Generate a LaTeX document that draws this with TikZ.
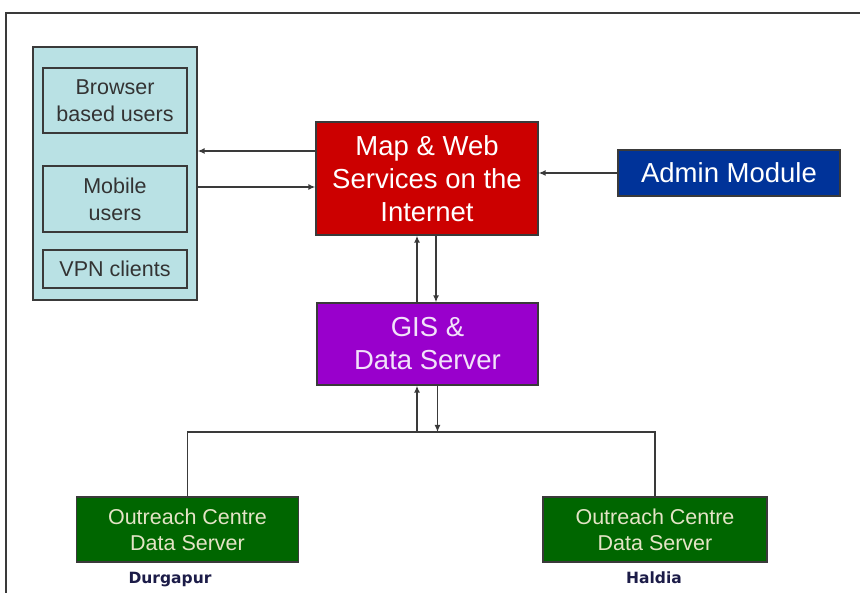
\documentclass[tikz,border=0pt]{standalone}
\usepackage{fontspec}
\setmainfont{Liberation Sans}
\newfontfamily\labelfont{DejaVu Sans}
\usetikzlibrary{calc,arrows.meta}
\definecolor{contfill}{HTML}{B9E1E4}
\definecolor{edgegray}{HTML}{3A3A3A}
\definecolor{redfill}{HTML}{CC0000}
\definecolor{bluefill}{HTML}{003399}
\definecolor{purplefill}{HTML}{9900CC}
\definecolor{greenfill}{HTML}{006600}
\definecolor{greentext}{HTML}{E4E4C6}
\definecolor{purpletext}{HTML}{F2E2FA}
\definecolor{navytext}{HTML}{1C1C48}
\definecolor{smalltext}{HTML}{333333}
\tikzset{
  boxbase/.style={draw=edgegray, line width=1.3pt, inner sep=0pt, align=center},
  userbox/.style={boxbase, fill=contfill, text=smalltext, minimum width=144pt, font=\fontsize{21.5}{27}\selectfont},
  bigbox/.style={boxbase, text=white, font=\fontsize{27.5}{33}\selectfont},
  greenbox/.style={boxbase, fill=greenfill, text=greentext, minimum width=222pt, minimum height=65pt, font=\fontsize{21.5}{26}\selectfont},
  placelabel/.style={font=\labelfont\bfseries\fontsize{15.5}{18}\selectfont, text=navytext, inner sep=0pt},
  conn/.style={draw=edgegray, line width=1.5pt},
  arr/.style={conn, -{Latex[length=7pt,width=6pt]}},
}
\begin{document}
\begin{tikzpicture}[x=1pt,y=-1pt]
\useasboundingbox (0,0) rectangle (860,593);
\fill[white] (0,0) rectangle (860,593);
% frame
\draw[edgegray, line width=1.6pt] (6,593) coordinate (fbl) -- (6,13) coordinate (ftl) -- (860,13) coordinate (ftr);
% users container
\node[boxbase, fill=contfill, minimum width=164pt, minimum height=253pt] (cont) at (115,173.5) {};
\node[userbox, minimum height=65pt] (browser) at (115,100.5) {Browser\\based users};
\node[userbox, minimum height=66pt] (mobile) at (115,199) {Mobile\\users};
\node[userbox, minimum height=38pt] (vpn) at (115,269) {VPN clients};
% main boxes
\node[bigbox, fill=redfill, minimum width=222pt, minimum height=113pt] (red) at (427,178.5) {Map \& Web\\Services on the\\Internet};
\node[bigbox, fill=bluefill, minimum width=222pt, minimum height=46pt] (admin) at (729,173) {Admin Module};
\node[bigbox, fill=purplefill, text=purpletext, minimum width=221pt, minimum height=82pt] (gis) at (427.5,344) {GIS \&\\Data Server};
\node[greenbox] (gl) at (187.5,529.5) {Outreach Centre\\Data Server};
\node[greenbox, minimum width=224pt] (gr) at (655,529.5) {Outreach Centre\\Data Server};
\node[placelabel] (durg) at (170,580) {Durgapur};
\node[placelabel] (hal) at (654,578) {Haldia};
% connectors: users <-> red
\coordinate (a1) at ($(red.west)+(0,-27.5)$);
\draw[arr] (a1) -- (a1 -| cont.east);
\coordinate (a2) at ($(red.west)+(0,8.5)$);
\draw[arr] (a2 -| cont.east) -- (a2);
% admin -> red
\draw[arr] (admin.west) -- (admin.west -| red.east);
% red <-> gis
\coordinate (v1) at ($(gis.north)+(-10.5,0)$);
\draw[arr] (v1) -- (v1 |- red.south);
\coordinate (v2) at ($(red.south)+(9,0)$);
\draw[arr] (v2) -- (v2 |- gis.north);
% bus
\coordinate (bus) at (427.5,432);
\draw[conn] (gl.north) -- (gl.north |- bus) -- (gr.north |- bus) -- (gr.north);
\coordinate (b1) at ($(gis.south)+(-10.5,0)$);
\draw[arr] (b1 |- bus) -- (b1);
\coordinate (b2) at ($(gis.south)+(10,0)$);
\draw[arr] (b2) -- (b2 |- bus);
\end{tikzpicture}
\end{document}
